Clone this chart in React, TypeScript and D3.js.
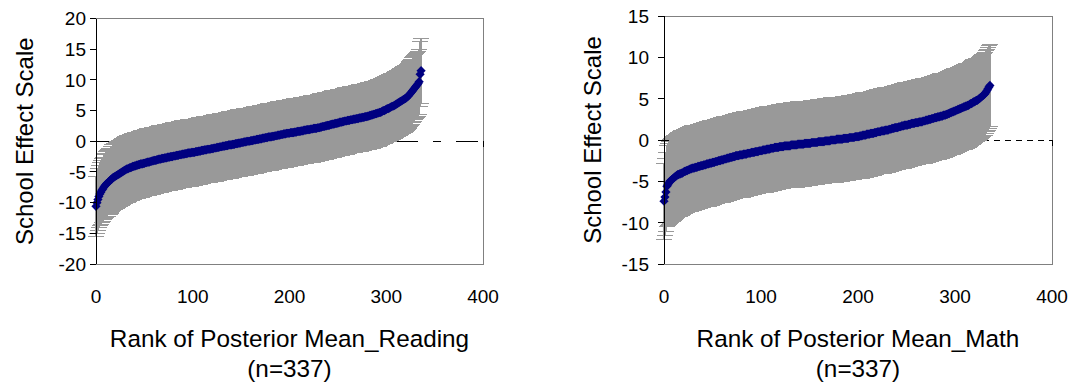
import React from 'react'
import * as d3 from 'd3'

// posterior means of the school effects, sorted by rank (n = 337)
const readingMeans = [
  -10.6, -10.0, -9.5, -9.0, -8.6, -8.3, -8.0, -7.8, -7.5, -7.3,
  -7.1, -6.9, -6.8, -6.6, -6.5, -6.3, -6.2, -6.0, -5.9, -5.8,
  -5.7, -5.6, -5.5, -5.4, -5.3, -5.2, -5.1, -5.0, -4.9, -4.8,
  -4.7, -4.6, -4.5, -4.5, -4.4, -4.3, -4.3, -4.2, -4.1, -4.1,
  -4.0, -4.0, -3.9, -3.9, -3.8, -3.8, -3.7, -3.7, -3.7, -3.6,
  -3.6, -3.5, -3.5, -3.4, -3.4, -3.4, -3.3, -3.3, -3.2, -3.2,
  -3.1, -3.1, -3.1, -3.0, -3.0, -2.9, -2.9, -2.9, -2.8, -2.8,
  -2.8, -2.7, -2.7, -2.7, -2.6, -2.6, -2.6, -2.5, -2.5, -2.5,
  -2.4, -2.4, -2.4, -2.3, -2.3, -2.3, -2.2, -2.2, -2.2, -2.1,
  -2.1, -2.1, -2.0, -2.0, -2.0, -1.9, -1.9, -1.9, -1.9, -1.8,
  -1.8, -1.8, -1.8, -1.7, -1.7, -1.7, -1.6, -1.6, -1.6, -1.5,
  -1.5, -1.5, -1.4, -1.4, -1.4, -1.3, -1.3, -1.3, -1.3, -1.2,
  -1.2, -1.2, -1.1, -1.1, -1.1, -1.0, -1.0, -1.0, -0.9, -0.9,
  -0.9, -0.8, -0.8, -0.8, -0.7, -0.7, -0.7, -0.6, -0.6, -0.6,
  -0.6, -0.5, -0.5, -0.5, -0.4, -0.4, -0.4, -0.3, -0.3, -0.3,
  -0.2, -0.2, -0.2, -0.1, -0.1, -0.1, 0.0, 0.0, 0.0, 0.0,
  0.1, 0.1, 0.1, 0.2, 0.2, 0.2, 0.3, 0.3, 0.3, 0.4,
  0.4, 0.4, 0.5, 0.5, 0.5, 0.6, 0.6, 0.6, 0.7, 0.7,
  0.7, 0.7, 0.8, 0.8, 0.8, 0.9, 0.9, 0.9, 1.0, 1.0,
  1.0, 1.1, 1.1, 1.1, 1.2, 1.2, 1.2, 1.3, 1.3, 1.3,
  1.3, 1.4, 1.4, 1.4, 1.4, 1.5, 1.5, 1.5, 1.6, 1.6,
  1.6, 1.6, 1.7, 1.7, 1.7, 1.8, 1.8, 1.8, 1.9, 1.9,
  1.9, 1.9, 2.0, 2.0, 2.0, 2.1, 2.1, 2.1, 2.1, 2.2,
  2.2, 2.2, 2.3, 2.3, 2.4, 2.4, 2.4, 2.5, 2.5, 2.6,
  2.6, 2.6, 2.7, 2.7, 2.8, 2.8, 2.8, 2.9, 2.9, 2.9,
  3.0, 3.0, 3.1, 3.1, 3.1, 3.2, 3.2, 3.3, 3.3, 3.3,
  3.4, 3.4, 3.4, 3.5, 3.5, 3.5, 3.6, 3.6, 3.6, 3.7,
  3.7, 3.7, 3.8, 3.8, 3.8, 3.9, 3.9, 3.9, 4.0, 4.0,
  4.0, 4.1, 4.1, 4.2, 4.2, 4.3, 4.3, 4.4, 4.4, 4.5,
  4.5, 4.6, 4.6, 4.7, 4.7, 4.8, 4.9, 5.0, 5.0, 5.1,
  5.2, 5.3, 5.3, 5.4, 5.5, 5.6, 5.7, 5.7, 5.8, 5.9,
  6.0, 6.1, 6.2, 6.3, 6.4, 6.5, 6.6, 6.7, 6.8, 6.9,
  7.0, 7.1, 7.3, 7.4, 7.6, 7.8, 8.0, 8.2, 8.4, 8.6,
  8.8, 9.0, 9.2, 9.4, 9.7, 10.9, 11.5,
]

// half width of each school's interval (error bar)
const readingHalfWidths = [
  4.9, 5.0, 5.0, 5.1, 5.1, 5.2, 5.2, 5.2, 5.3, 5.3,
  5.4, 5.4, 5.4, 5.4, 5.4, 5.4, 5.4, 5.4, 5.4, 5.4, 5.4, 5.4, 5.4, 5.4, 5.4, 5.4, 5.4, 5.4, 5.4, 5.4,
  5.4, 5.4, 5.4, 5.4, 5.4, 5.4, 5.4, 5.4, 5.4, 5.4, 5.4, 5.4, 5.4, 5.4, 5.4, 5.4, 5.4, 5.4, 5.4, 5.4,
  5.4, 5.4, 5.4, 5.4, 5.4, 5.4, 5.4, 5.4, 5.4, 5.4, 5.4, 5.4, 5.4, 5.4, 5.4, 5.4, 5.4, 5.4, 5.4, 5.4,
  5.4, 5.4, 5.4, 5.4, 5.4, 5.4, 5.4, 5.4, 5.4, 5.4, 5.4, 5.4, 5.4, 5.4, 5.4, 5.4, 5.4, 5.4, 5.4, 5.4,
  5.4, 5.4, 5.4, 5.4, 5.4, 5.4, 5.4, 5.4, 5.4, 5.4, 5.4, 5.4, 5.4, 5.4, 5.4, 5.4, 5.4, 5.4, 5.4, 5.4,
  5.4, 5.4, 5.4, 5.4, 5.4, 5.4, 5.4, 5.4, 5.4, 5.4, 5.4, 5.4, 5.4, 5.4, 5.4, 5.4, 5.4, 5.4, 5.4, 5.4,
  5.4, 5.4, 5.4, 5.4, 5.4, 5.4, 5.4, 5.4, 5.4, 5.4, 5.4, 5.4, 5.4, 5.4, 5.4, 5.4, 5.4, 5.4, 5.4, 5.4,
  5.4, 5.4, 5.4, 5.4, 5.4, 5.4, 5.4, 5.4, 5.4, 5.4, 5.4, 5.4, 5.4, 5.4, 5.4, 5.4, 5.4, 5.4, 5.4, 5.4,
  5.4, 5.4, 5.4, 5.4, 5.4, 5.4, 5.4, 5.4, 5.4, 5.4, 5.4, 5.4, 5.4, 5.4, 5.4, 5.4, 5.4, 5.4, 5.4, 5.4,
  5.4, 5.4, 5.4, 5.4, 5.4, 5.4, 5.4, 5.4, 5.4, 5.4, 5.4, 5.4, 5.4, 5.4, 5.4, 5.4, 5.4, 5.4, 5.4, 5.4,
  5.4, 5.4, 5.4, 5.4, 5.4, 5.4, 5.4, 5.4, 5.4, 5.4, 5.4, 5.4, 5.4, 5.4, 5.4, 5.4, 5.4, 5.4, 5.4, 5.4,
  5.4, 5.4, 5.4, 5.4, 5.4, 5.4, 5.4, 5.4, 5.4, 5.4, 5.4, 5.4, 5.4, 5.4, 5.4, 5.4, 5.4, 5.4, 5.4, 5.4,
  5.4, 5.4, 5.4, 5.4, 5.4, 5.4, 5.4, 5.4, 5.4, 5.4, 5.4, 5.4, 5.4, 5.4, 5.4, 5.4, 5.4, 5.4, 5.4, 5.4,
  5.4, 5.4, 5.4, 5.4, 5.4, 5.4, 5.4, 5.4, 5.4, 5.4, 5.4, 5.4, 5.4, 5.4, 5.4, 5.4, 5.4, 5.4, 5.4, 5.4,
  5.4, 5.4, 5.4, 5.4, 5.4, 5.4, 5.4, 5.4, 5.4, 5.4, 5.4, 5.4, 5.4, 5.4, 5.4, 5.4, 5.4, 5.4, 5.4, 5.4,
  5.4, 5.4, 5.4, 5.4, 5.4, 5.4, 5.4, 5.4, 5.4, 5.4, 5.4, 5.4, 5.4, 5.4, 5.4, 5.4, 5.4, 5.4, 5.4, 5.4,
  5.3, 5.3, 5.3, 5.3, 5.3, 5.3, 5.3,
]

const mathMeans = [
  -7.4, -6.9, -6.3, -5.6, -5.4, -5.2, -5.0, -4.9, -4.8, -4.7,
  -4.6, -4.5, -4.4, -4.3, -4.2, -4.2, -4.1, -4.1, -4.0, -4.0,
  -3.9, -3.8, -3.8, -3.7, -3.7, -3.6, -3.6, -3.5, -3.5, -3.4,
  -3.4, -3.4, -3.3, -3.3, -3.3, -3.2, -3.2, -3.2, -3.1, -3.1,
  -3.1, -3.0, -3.0, -3.0, -2.9, -2.9, -2.9, -2.8, -2.8, -2.8,
  -2.7, -2.7, -2.7, -2.6, -2.6, -2.6, -2.5, -2.5, -2.5, -2.4,
  -2.4, -2.4, -2.3, -2.3, -2.3, -2.2, -2.2, -2.2, -2.1, -2.1,
  -2.1, -2.0, -2.0, -2.0, -1.9, -1.9, -1.9, -1.9, -1.8, -1.8,
  -1.8, -1.8, -1.7, -1.7, -1.7, -1.7, -1.6, -1.6, -1.6, -1.6,
  -1.5, -1.5, -1.5, -1.5, -1.4, -1.4, -1.4, -1.4, -1.3, -1.3,
  -1.3, -1.3, -1.2, -1.2, -1.2, -1.2, -1.1, -1.1, -1.1, -1.1,
  -1.0, -1.0, -1.0, -1.0, -0.9, -0.9, -0.9, -0.9, -0.9, -0.8,
  -0.8, -0.8, -0.8, -0.8, -0.7, -0.7, -0.7, -0.7, -0.7, -0.7,
  -0.7, -0.6, -0.6, -0.6, -0.6, -0.6, -0.6, -0.6, -0.5, -0.5,
  -0.5, -0.5, -0.5, -0.5, -0.5, -0.4, -0.4, -0.4, -0.4, -0.4,
  -0.4, -0.4, -0.3, -0.3, -0.3, -0.3, -0.3, -0.3, -0.3, -0.2,
  -0.2, -0.2, -0.2, -0.2, -0.2, -0.2, -0.1, -0.1, -0.1, -0.1,
  -0.1, -0.1, 0.0, 0.0, 0.0, 0.0, 0.0, 0.0, 0.1, 0.1,
  0.1, 0.1, 0.1, 0.1, 0.1, 0.2, 0.2, 0.2, 0.2, 0.2,
  0.2, 0.3, 0.3, 0.3, 0.3, 0.3, 0.3, 0.4, 0.4, 0.4,
  0.4, 0.4, 0.5, 0.5, 0.5, 0.6, 0.6, 0.6, 0.6, 0.7,
  0.7, 0.7, 0.7, 0.8, 0.8, 0.8, 0.8, 0.9, 0.9, 0.9,
  1.0, 1.0, 1.0, 1.0, 1.1, 1.1, 1.1, 1.1, 1.2, 1.2,
  1.2, 1.2, 1.3, 1.3, 1.3, 1.4, 1.4, 1.4, 1.5, 1.5,
  1.5, 1.5, 1.6, 1.6, 1.6, 1.7, 1.7, 1.7, 1.8, 1.8,
  1.8, 1.8, 1.9, 1.9, 1.9, 2.0, 2.0, 2.0, 2.0, 2.1,
  2.1, 2.1, 2.1, 2.2, 2.2, 2.2, 2.2, 2.3, 2.3, 2.3,
  2.4, 2.4, 2.4, 2.5, 2.5, 2.5, 2.6, 2.6, 2.6, 2.7,
  2.7, 2.7, 2.8, 2.8, 2.8, 2.9, 2.9, 2.9, 3.0, 3.0,
  3.0, 3.1, 3.1, 3.2, 3.2, 3.3, 3.3, 3.4, 3.4, 3.5,
  3.5, 3.6, 3.6, 3.7, 3.7, 3.8, 3.8, 3.9, 3.9, 4.0,
  4.0, 4.1, 4.1, 4.2, 4.2, 4.3, 4.4, 4.4, 4.5, 4.6,
  4.6, 4.7, 4.8, 4.8, 4.9, 5.0, 5.1, 5.2, 5.3, 5.4,
  5.5, 5.6, 5.8, 6.0, 6.2, 6.4, 6.6,
]

const mathHalfWidths = [
  4.6, 4.7, 4.8, 4.9, 5.0, 5.0, 5.1, 5.1, 5.1, 5.1, 5.1, 5.1, 5.1, 5.1, 5.1, 5.1, 5.1, 5.1, 5.1, 5.1,
  5.1, 5.1, 5.1, 5.1, 5.1, 5.1, 5.1, 5.1, 5.1, 5.1, 5.1, 5.1, 5.1, 5.1, 5.1, 5.1, 5.1, 5.1, 5.1, 5.1,
  5.1, 5.1, 5.1, 5.1, 5.1, 5.1, 5.1, 5.1, 5.1, 5.1, 5.1, 5.1, 5.1, 5.1, 5.1, 5.1, 5.1, 5.1, 5.1, 5.1,
  5.1, 5.1, 5.1, 5.1, 5.1, 5.1, 5.1, 5.1, 5.1, 5.1, 5.1, 5.1, 5.1, 5.1, 5.1, 5.1, 5.1, 5.1, 5.1, 5.1,
  5.1, 5.1, 5.1, 5.1, 5.1, 5.1, 5.1, 5.1, 5.1, 5.1, 5.1, 5.1, 5.1, 5.1, 5.1, 5.1, 5.1, 5.1, 5.1, 5.1,
  5.1, 5.1, 5.1, 5.1, 5.1, 5.1, 5.1, 5.1, 5.1, 5.1, 5.1, 5.1, 5.1, 5.1, 5.1, 5.1, 5.1, 5.1, 5.1, 5.1,
  5.1, 5.1, 5.1, 5.1, 5.1, 5.1, 5.1, 5.1, 5.1, 5.1, 5.1, 5.1, 5.1, 5.1, 5.1, 5.1, 5.1, 5.1, 5.1, 5.1,
  5.1, 5.1, 5.1, 5.1, 5.1, 5.1, 5.1, 5.1, 5.1, 5.1, 5.1, 5.1, 5.1, 5.1, 5.1, 5.1, 5.1, 5.1, 5.1, 5.1,
  5.1, 5.1, 5.1, 5.1, 5.1, 5.1, 5.1, 5.1, 5.1, 5.1, 5.1, 5.1, 5.1, 5.1, 5.1, 5.1, 5.1, 5.1, 5.1, 5.1,
  5.1, 5.1, 5.1, 5.1, 5.1, 5.1, 5.1, 5.1, 5.1, 5.1, 5.1, 5.1, 5.1, 5.1, 5.1, 5.1, 5.1, 5.1, 5.1, 5.1,
  5.1, 5.1, 5.1, 5.1, 5.1, 5.1, 5.1, 5.1, 5.1, 5.1, 5.1, 5.1, 5.1, 5.1, 5.1, 5.1, 5.1, 5.1, 5.1, 5.1,
  5.1, 5.1, 5.1, 5.1, 5.1, 5.1, 5.1, 5.1, 5.1, 5.1, 5.1, 5.1, 5.1, 5.1, 5.1, 5.1, 5.1, 5.1, 5.1, 5.1,
  5.1, 5.1, 5.1, 5.1, 5.1, 5.1, 5.1, 5.1, 5.1, 5.1, 5.1, 5.1, 5.1, 5.1, 5.1, 5.1, 5.1, 5.1, 5.1, 5.1,
  5.1, 5.1, 5.1, 5.1, 5.1, 5.1, 5.1, 5.1, 5.1, 5.1, 5.1, 5.1, 5.1, 5.1, 5.1, 5.1, 5.1, 5.1, 5.1, 5.1,
  5.1, 5.1, 5.1, 5.1, 5.1, 5.1, 5.1, 5.1, 5.1, 5.1, 5.1, 5.1, 5.1, 5.1, 5.1, 5.1, 5.1, 5.1, 5.1, 5.1,
  5.1, 5.1, 5.1, 5.1, 5.1, 5.1, 5.1, 5.1, 5.1, 5.1, 5.1, 5.1, 5.1, 5.1, 5.1, 5.1, 5.1, 5.1, 5.1, 5.1,
  5.0, 5.0, 5.0, 5.0, 5.0, 5.0, 5.0, 5.0, 5.0, 5.0, 5.0, 5.0, 5.0, 5.0, 5.0, 5.0, 5.0,
]

const xTicks = [0, 100, 200, 300, 400]
const readingYTicks = [-20, -15, -10, -5, 0, 5, 10, 15, 20]
const mathYTicks = [-15, -10, -5, 0, 5, 10, 15]

const yTitle = 'School Effect Scale'
const readingXTitle = 'Rank of Posterior Mean_Reading'
const mathXTitle = 'Rank of Posterior Mean_Math'
const sampleLabel = '(n=337)'

const FONT = '"Liberation Sans", Arial, sans-serif'

interface PanelProps {
  means: number[]
  halfWidths: number[]
  yTicks: number[]
  xTitle: string
  left: number
  right: number
  top: number
  bottom: number
  labelRight: number
  yTitleX: number
  zeroDash: string
}

const Panel: React.FC<PanelProps> = ({
  means,
  halfWidths,
  yTicks,
  xTitle,
  left,
  right,
  top,
  bottom,
  labelRight,
  yTitleX,
  zeroDash,
}) => {
  const x = d3.scaleLinear().domain([0, 400]).range([left, right])
  const y = d3
    .scaleLinear()
    .domain([yTicks[0], yTicks[yTicks.length - 1]])
    .range([bottom, top])

  const cap = 8 // error bar cap half width in px
  const r = 4.6 // diamond half diagonal

  // error bar stems and caps, each in one path
  let stems = ''
  let caps = ''
  means.forEach((m, i) => {
    const hw = halfWidths[i] ?? halfWidths[halfWidths.length - 1]
    const cx = x(i)
    const lo = y(m - hw)
    const hi = y(m + hw)
    stems += `M${cx},${lo}V${hi}`
    caps += `M${cx - cap},${lo}H${cx + cap}M${cx - cap},${hi}H${cx + cap}`
  })

  const y0 = y(0)
  const midX = (left + right) / 2

  return (
    <g fontFamily={FONT} fill="#000">
      {/* plot area frame */}
      <rect
        x={left}
        y={top}
        width={right - left}
        height={bottom - top}
        fill="none"
        stroke="#808080"
        strokeWidth={1}
        shapeRendering="crispEdges"
      />

      {/* x axis crossing at zero */}
      <line
        x1={left}
        x2={right}
        y1={y0}
        y2={y0}
        stroke="#000"
        strokeWidth={1}
        strokeDasharray={zeroDash}
        shapeRendering="crispEdges"
      />
      {xTicks.map(t => (
        <line key={t} x1={x(t)} x2={x(t)} y1={y0} y2={y0 + 6} stroke="#000" strokeWidth={1} shapeRendering="crispEdges" />
      ))}

      {/* interval bars */}
      <path d={caps} stroke="#999999" strokeWidth={1} fill="none" shapeRendering="crispEdges" />
      <path d={stems} stroke="#999999" strokeWidth={1.6} fill="none" shapeRendering="crispEdges" />

      {/* posterior means */}
      {means.map((m, i) => {
        const cx = x(i)
        const cy = y(m)
        return (
          <path
            key={i}
            d={`M${cx},${cy - r}L${cx + r},${cy}L${cx},${cy + r}L${cx - r},${cy}Z`}
            fill="#000080"
          />
        )
      })}

      {/* y axis */}
      <line x1={left} x2={left} y1={top} y2={bottom} stroke="#000" strokeWidth={1} shapeRendering="crispEdges" />
      {yTicks.map(t => (
        <g key={t}>
          <line x1={left - 6} x2={left} y1={y(t)} y2={y(t)} stroke="#000" strokeWidth={1} shapeRendering="crispEdges" />
          <text x={labelRight} y={y(t)} dy="0.36em" textAnchor="end" fontSize={19}>
            {t}
          </text>
        </g>
      ))}

      {/* x tick labels along the bottom */}
      {xTicks.map(t => (
        <text key={t} x={x(t)} y={303} textAnchor="middle" fontSize={19}>
          {t}
        </text>
      ))}

      {/* titles */}
      <text x={midX} y={347} textAnchor="middle" fontSize={24.3}>
        {xTitle}
      </text>
      <text x={midX} y={377} textAnchor="middle" fontSize={24.3}>
        {sampleLabel}
      </text>
      <text
        transform={`translate(${yTitleX},${(top + bottom) / 2}) rotate(-90)`}
        textAnchor="middle"
        fontSize={24}
      >
        {yTitle}
      </text>
    </g>
  )
}

export default function App() {
  return (
    <svg
      width={1073}
      height={388}
      style={{ position: 'absolute', left: 0, top: 0, background: '#fff' }}
    >
      <Panel
        means={readingMeans}
        halfWidths={readingHalfWidths}
        yTicks={readingYTicks}
        xTitle={readingXTitle}
        left={96}
        right={483}
        top={18.5}
        bottom={264}
        labelRight={86}
        yTitleX={33}
        zeroDash="22,15,8,15"
      />
      <Panel
        means={mathMeans}
        halfWidths={mathHalfWidths}
        yTicks={mathYTicks}
        xTitle={mathXTitle}
        left={664}
        right={1052}
        top={16}
        bottom={264}
        labelRight={649}
        yTitleX={601}
        zeroDash="6,5"
      />
    </svg>
  )
}
